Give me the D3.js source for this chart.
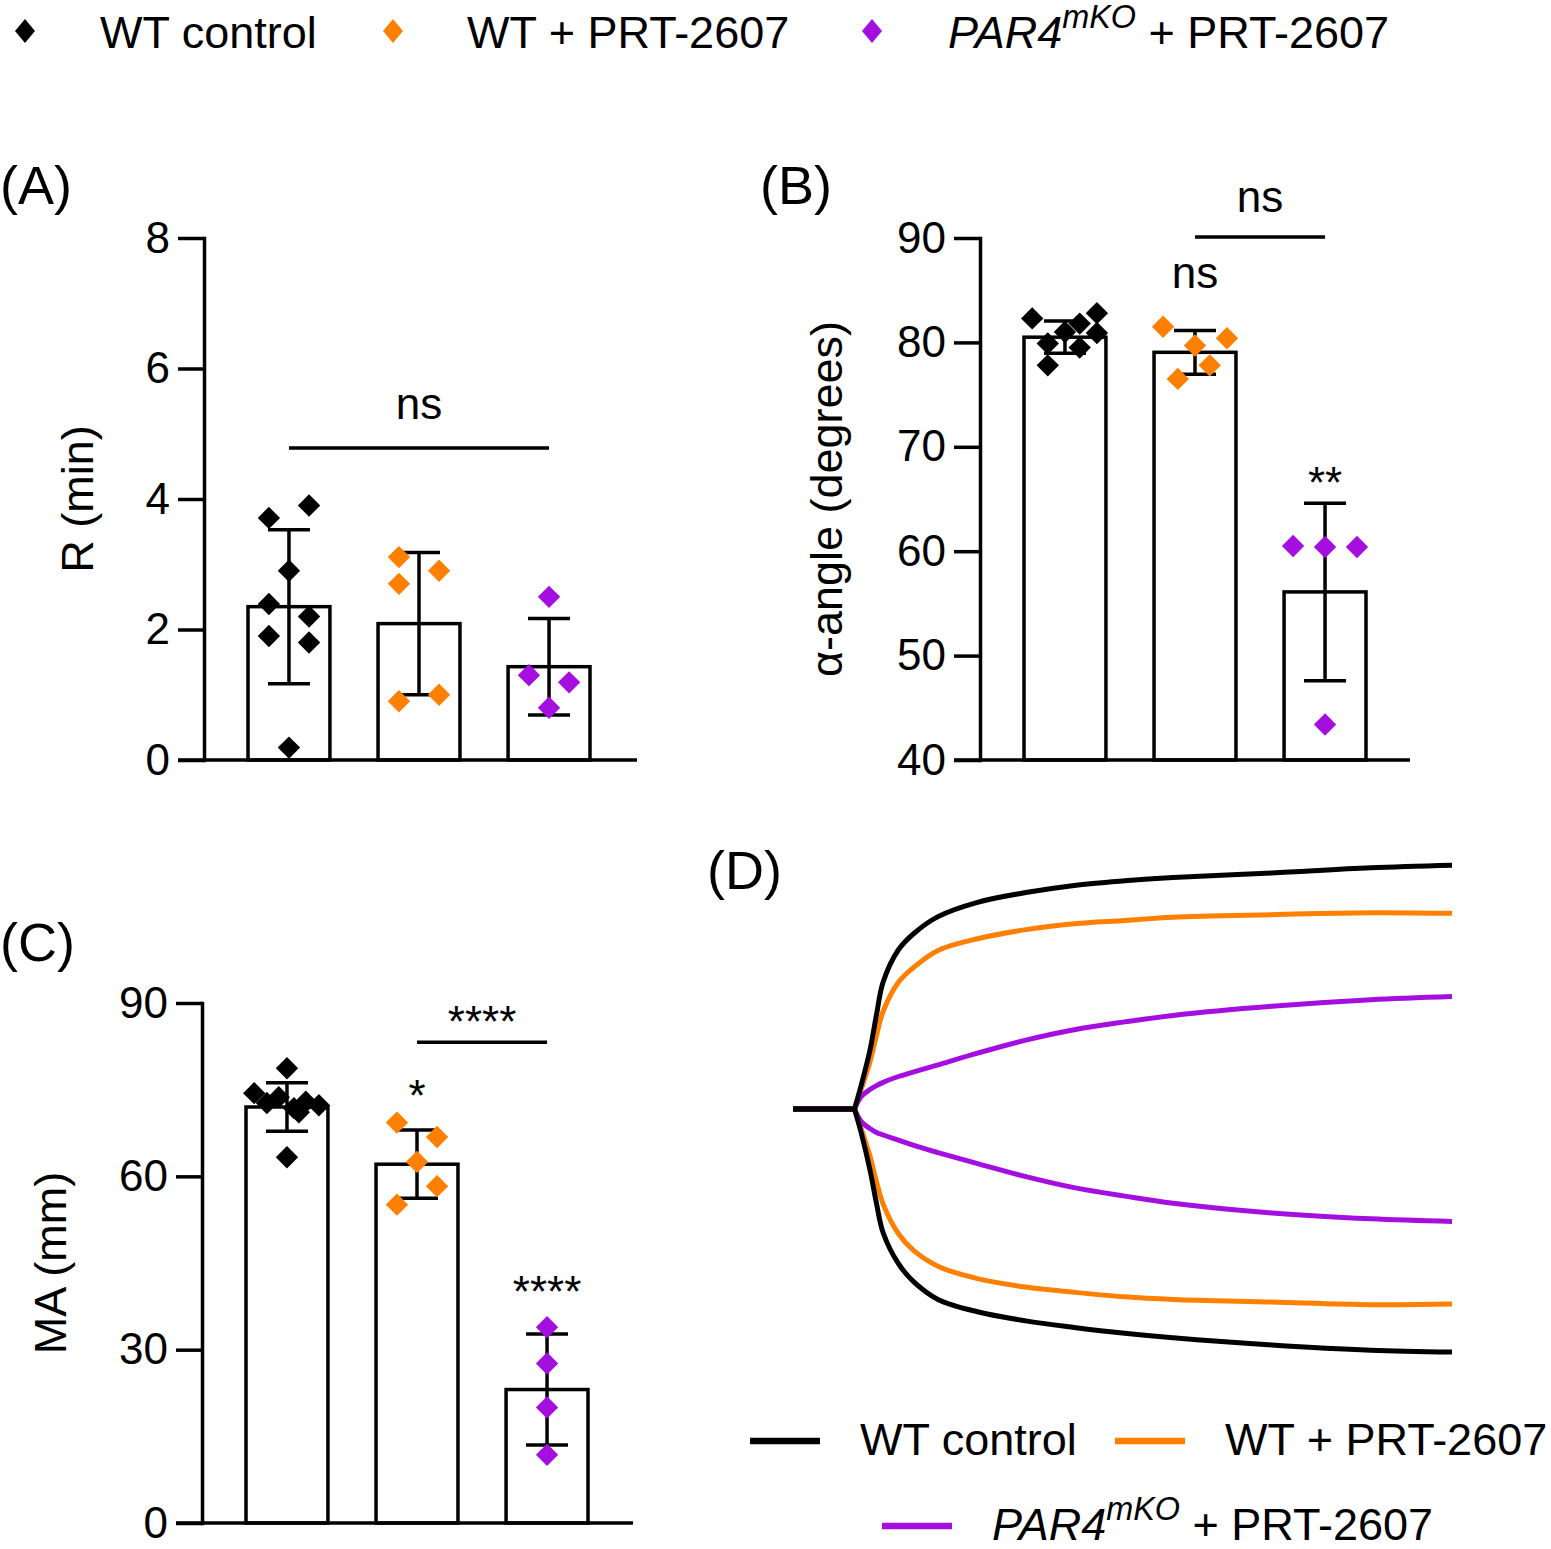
<!DOCTYPE html>
<html>
<head>
<meta charset="utf-8">
<script src="https://cdn.jsdelivr.net/npm/d3@7"></script>
<style>
  body { margin: 0; background: #fff; }
  svg text { font-family: 'Liberation Sans', Arial, sans-serif; fill: #000; }
</style>
</head>
<body>
<svg id="fig" width="1551" height="1549"></svg>
<script>
const groups = ['WT control', 'WT + PRT-2607', 'PAR4 + PRT-2607'];
const colors = ['#000000', '#ff8000', '#a40fe0'];

// (A) R (min)
const rTicks = [0, 2, 4, 6, 8];
const rMean = [2.35, 2.09, 1.43];
const rSd = [1.18, 1.09, 0.74];
const rPoints = [
    [3.71, 3.90, 2.90, 2.39, 2.20, 1.90, 1.80, 0.19],
    [3.11, 2.90, 2.70, 0.90, 1.00],
    [2.50, 1.30, 1.19, 0.80]
];
const rJitter = [
    [-0.245, 0.245, 0, -0.245, 0.245, -0.245, 0.245, 0],
    [-0.245, 0.245, -0.245, -0.245, 0.245],
    [0, -0.245, 0.245, 0]
];

// (B) alpha angle
const angleTicks = [40, 50, 60, 70, 80, 90];
const angleMean = [80.5, 79.05, 56.1];
const angleSd = [1.55, 2.1, 8.5];
const anglePoints = [
    [82.3, 82.8, 81.8, 81.0, 79.9, 80.9, 79.5, 77.8],
    [81.5, 80.4, 79.7, 77.8, 76.5],
    [60.5, 60.4, 60.4, 43.4]
];
const angleJitter = [
    [-0.40, 0.39, 0.18, 0, -0.21, 0.39, 0.18, -0.21],
    [-0.39, 0.39, 0, 0.18, -0.21],
    [-0.39, 0, 0.39, 0]
];

// (C) MA (mm)
const maTicks = [0, 30, 60, 90];
const maMean = [72.0, 62.1, 23.1];
const maSd = [4.2, 5.9, 9.6];
const maPoints = [
    [78.7, 74.4, 72.7, 73.7, 71.8, 72.9, 72.3, 71.1, 63.3],
    [69.3, 66.8, 62.5, 58.3, 55.1],
    [33.9, 27.6, 20.0, 11.8]
];
const maJitter = [
    [0, -0.40, -0.245, -0.1, 0.085, 0.23, 0.39, 0.145, 0],
    [-0.245, 0.245, 0, 0.245, -0.245],
    [0, 0, 0, 0]
];

// significance marks: [from, to, line level, text level, label]
const rBrackets = [[0, 2, 4.78, 5.23, 'ns']];
const angleBrackets = [[1, 2, 90.1, 92.5, 'ns']];
const maBrackets = [[1, 2, 83.2, 84.1, '****']];
// marks over single bars: [group, text level, label]
const angleStars = [[1, 85.2, 'ns'], [2, 65.1, '**']];
const maStars = [[1, 71.3, '*'], [2, 37.4, '****']];

// (D) TEG tracings, time (min) and half amplitude (mm)
const tegTime = [0, 2.8, 3.1, 3.5, 3.8, 4.1, 4.8, 5.5, 6.6, 8.4, 10.6, 12.8, 15.1, 17.3, 21.8, 26.3, 30];
const wtUpper = [0, 0, 3.6, 9.0, 14.5, 19.5, 24.5, 27.0, 29.6, 31.8, 33.3, 34.4, 35.1, 35.6, 36.3, 37.1, 37.5];
const wtLower = [0, 0, 3.6, 9.3, 14.5, 19.0, 23.8, 26.6, 29.3, 31.2, 32.6, 33.6, 34.5, 35.2, 36.3, 37.1, 37.4];
const prtUpper = [0, 0, 3.0, 7.2, 11.3, 15.0, 19.5, 21.8, 24.4, 26.2, 27.6, 28.5, 29.0, 29.5, 29.9, 30.2, 30.1];
const prtLower = [0, 0, 3.0, 7.2, 11.2, 14.6, 19.2, 21.8, 24.2, 26.1, 27.4, 28.2, 28.9, 29.3, 29.7, 30.1, 30.0];
const koUpper = [0, 0, 1.9, 3.0, 3.6, 4.1, 5.0, 5.7, 6.8, 8.6, 10.6, 12.2, 13.4, 14.4, 15.8, 16.8, 17.3];
const koLower = [0, 0, 1.9, 3.0, 3.6, 4.0, 4.8, 5.6, 6.7, 8.4, 10.4, 12.1, 13.4, 14.5, 16.0, 16.9, 17.3];

const svg = d3.select('#fig');
const SW = 3.5;
const diamond = d3.symbol(d3.symbolSquare, 250);

// label with italic PAR4 and superscript mKO
function groupLabel(text, i, size) {
    if (i < 2) {
        text.text(groups[i]);
        return;
    }
    text.append('tspan').attr('font-style', 'italic').text('PAR4');
    text.append('tspan').attr('font-style', 'italic').attr('font-size', size * 0.72)
        .attr('dy', -size * 0.44).text('mKO');
    text.append('tspan').attr('dy', size * 0.44).text('\u00a0+ PRT-2607');
}

// top legend
const topLegend = svg.append('g');
[25, 393, 872].forEach((cx, i) => {
    topLegend.append('path')
        .attr('d', 'M0,-12L10,0L0,12L-10,0Z')
        .attr('transform', `translate(${cx},31)`)
        .attr('fill', colors[i]);
});
[100, 467, 948].forEach((tx, i) => {
    const t = topLegend.append('text').attr('x', tx).attr('y', 48).attr('font-size', 45);
    groupLabel(t, i, 45);
});

// panel letters
[['(A)', 0, 204], ['(B)', 760, 204], ['(C)', 0, 961], ['(D)', 707, 889]].forEach(l => {
    svg.append('text').attr('x', l[1]).attr('y', l[2]).attr('font-size', 54).text(l[0]);
});

function barPanel(p) {
    const g = svg.append('g');
    const y = d3.scaleLinear().domain(p.domain).range([p.bottom, p.top]);
    const x = d3.scaleBand().domain(groups).range(p.band).paddingInner(0.37).paddingOuter(0);
    const bw = x.bandwidth();
    const cx = i => x(groups[i]) + bw / 2;

    // bars
    g.selectAll('rect.bar').data(groups).join('rect')
        .attr('class', 'bar')
        .attr('x', d => x(d))
        .attr('width', bw)
        .attr('y', (d, i) => y(p.mean[i]))
        .attr('height', (d, i) => p.bottom - y(p.mean[i]))
        .attr('fill', '#fff')
        .attr('stroke', '#000')
        .attr('stroke-width', SW);

    // error bars (mean +/- SD)
    groups.forEach((d, i) => {
        const eg = g.append('g').attr('stroke', '#000').attr('stroke-width', SW);
        const hi = y(p.mean[i] + p.sd[i]);
        const lo = y(p.mean[i] - p.sd[i]);
        eg.append('line').attr('x1', cx(i)).attr('x2', cx(i)).attr('y1', hi).attr('y2', lo);
        eg.append('line').attr('x1', cx(i) - 21).attr('x2', cx(i) + 21).attr('y1', hi).attr('y2', hi);
        eg.append('line').attr('x1', cx(i) - 21).attr('x2', cx(i) + 21).attr('y1', lo).attr('y2', lo);
    });

    // individual points
    p.points.forEach((vals, i) => {
        g.selectAll(null).data(vals).join('path')
            .attr('d', diamond)
            .attr('transform', (v, j) => `translate(${cx(i) + p.jitter[i][j] * bw},${y(v)}) rotate(45)`)
            .attr('fill', colors[i]);
    });

    // axes
    const yAxis = g.append('g')
        .attr('transform', `translate(${p.x0},0)`)
        .call(d3.axisLeft(y).tickValues(p.ticks).tickSize(26).tickPadding(8).tickSizeOuter(0));
    yAxis.attr('font-size', 44).attr('font-family', null);
    yAxis.select('.domain').attr('stroke-width', SW).attr('stroke-linecap', 'square');
    yAxis.selectAll('.tick line').attr('stroke-width', SW);
    yAxis.selectAll('.tick text').attr('fill', '#000');
    g.append('line')
        .attr('x1', p.x0 - 26).attr('x2', p.xEnd)
        .attr('y1', p.bottom).attr('y2', p.bottom)
        .attr('stroke', '#000').attr('stroke-width', SW);

    // axis title
    g.append('text')
        .attr('transform', `translate(${p.titleX},${(p.top + p.bottom) / 2}) rotate(-90)`)
        .attr('text-anchor', 'middle')
        .attr('font-size', 45)
        .text(p.title);

    // significance
    p.brackets.forEach(b => {
        g.append('line')
            .attr('x1', cx(b[0])).attr('x2', cx(b[1]))
            .attr('y1', y(b[2])).attr('y2', y(b[2]))
            .attr('stroke', '#000').attr('stroke-width', SW);
        g.append('text')
            .attr('x', (cx(b[0]) + cx(b[1])) / 2).attr('y', y(b[3]))
            .attr('text-anchor', 'middle').attr('font-size', 44)
            .text(b[4]);
    });
    p.stars.forEach(s => {
        g.append('text')
            .attr('x', cx(s[0])).attr('y', y(s[1]))
            .attr('text-anchor', 'middle').attr('font-size', 44)
            .text(s[2]);
    });
}

barPanel({
    domain: [0, 8], ticks: rTicks, top: 238, bottom: 760, x0: 204, xEnd: 637, band: [248, 590],
    mean: rMean, sd: rSd, points: rPoints, jitter: rJitter,
    title: 'R (min)', titleX: 93, brackets: rBrackets, stars: []
});
barPanel({
    domain: [40, 90], ticks: angleTicks, top: 238, bottom: 760, x0: 980, xEnd: 1410, band: [1024, 1366],
    mean: angleMean, sd: angleSd, points: anglePoints, jitter: angleJitter,
    title: '\u03b1-angle (degrees)', titleX: 842, brackets: angleBrackets, stars: angleStars
});
barPanel({
    domain: [0, 90], ticks: maTicks, top: 1003, bottom: 1523, x0: 202, xEnd: 633, band: [246, 588],
    mean: maMean, sd: maSd, points: maPoints, jitter: maJitter,
    title: 'MA (mm)', titleX: 66, brackets: maBrackets, stars: maStars
});

// (D) TEG tracings: flat baseline until clotting starts, then smooth curves
const tx = d3.scaleLinear().domain([0, 30]).range([793, 1452]);
const ty = d3.scaleLinear().domain([-40, 40]).range([1109 + 260, 1109 - 260]);
const teg = [
    { color: colors[1], upper: prtUpper, lower: prtLower },
    { color: colors[2], upper: koUpper, lower: koLower },
    { color: colors[0], upper: wtUpper, lower: wtLower }
];
const flat = d3.line().x(d => tx(d[0])).y(d => ty(d[1]));
const smooth = d3.line().x(d => tx(d[0])).y(d => ty(d[1])).curve(d3.curveCatmullRom.alpha(0.5));
const dg = svg.append('g').attr('fill', 'none').attr('stroke-width', 5);
teg.forEach(s => {
    [s.upper, s.lower.map(v => -v)].forEach(vals => {
        const pts = tegTime.map((t, i) => [t, vals[i]]);
        dg.append('path').attr('d', flat(pts.slice(0, 2)) + smooth(pts.slice(1)))
            .attr('stroke', s.color).attr('stroke-linejoin', 'round');
    });
});

// (D) legend
const dLegend = [
    { i: 0, x: 750, y: 1441 },
    { i: 1, x: 1115, y: 1441 },
    { i: 2, x: 882, y: 1526 }
];
dLegend.forEach(l => {
    svg.append('line')
        .attr('x1', l.x).attr('x2', l.x + 70)
        .attr('y1', l.y).attr('y2', l.y)
        .attr('stroke', colors[l.i]).attr('stroke-width', 6.5);
    const t = svg.append('text').attr('x', l.x + 110).attr('y', l.y + 14).attr('font-size', 45);
    groupLabel(t, l.i, 45);
});
</script>
</body>
</html>
